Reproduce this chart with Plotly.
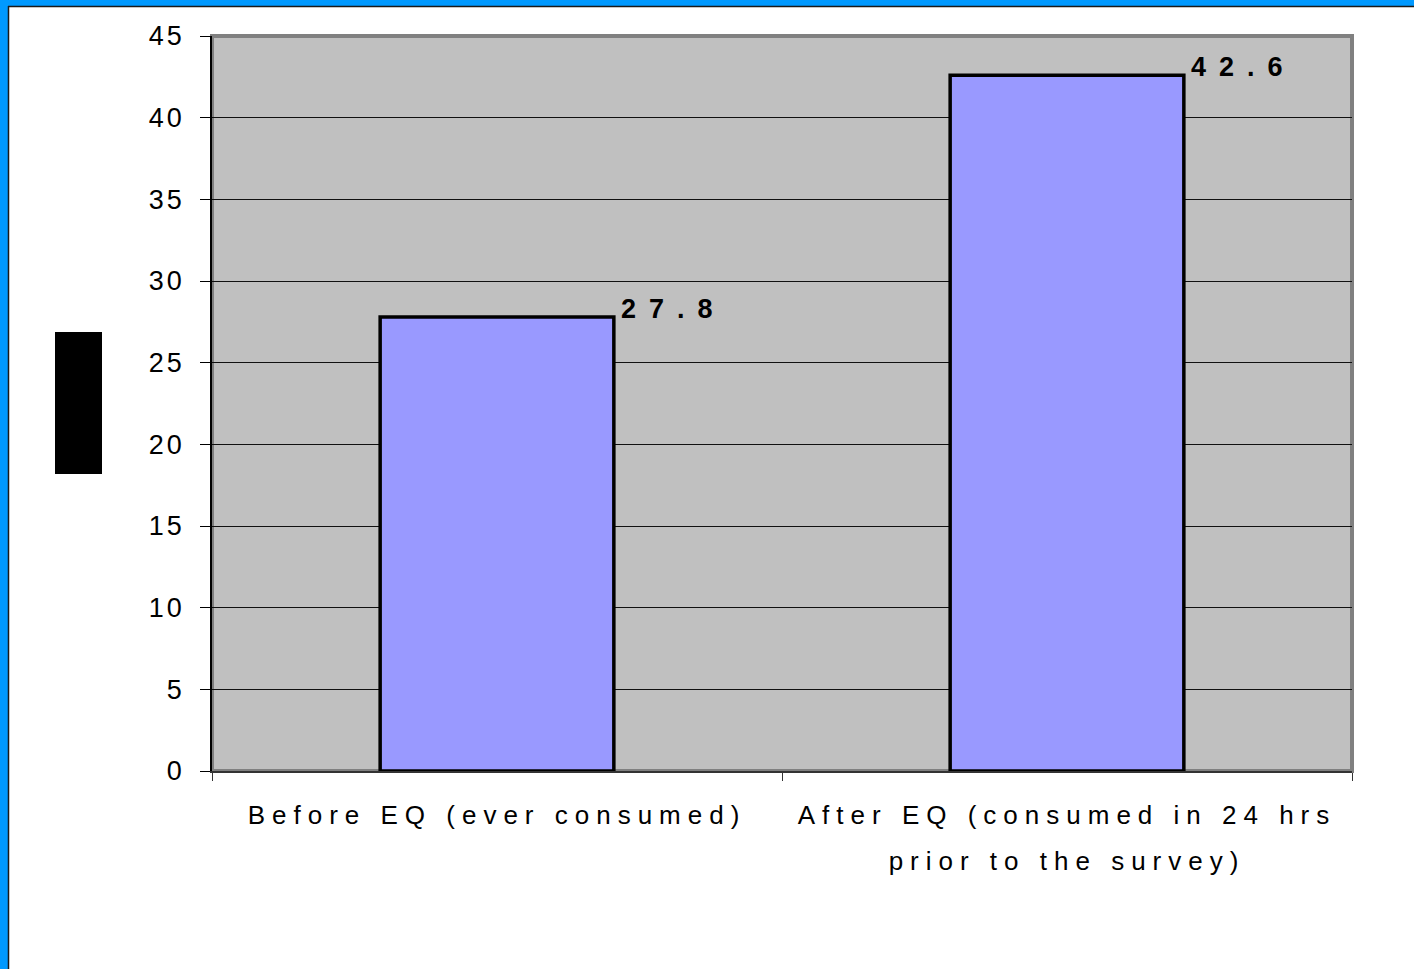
import plotly.graph_objects as go

categories = ["Before EQ (ever consumed)", "After EQ (consumed in 24 hrs<br>prior to the survey)"]
values = [27.8, 42.6]
y_ticks = [0, 5, 10, 15, 20, 25, 30, 35, 40, 45]

W, H = 1414, 969
L, R, T, B = 212, 62, 36, 198
PW, PH = W - L - R, H - T - B

def px(x):
    return (x - L) / PW

def py(y):
    return (H - B - y) / PH

fig = go.Figure()
fig.add_trace(go.Bar(
    x=categories, y=values,
    marker=dict(color="#9999FF", line=dict(color="black", width=3.5)),
    width=0.41,
))

for c, v in zip(categories, values):
    fig.add_annotation(x=c, y=v, text=f"<b>{v}</b>", showarrow=False,
                       xanchor="left", yanchor="bottom", xshift=148, yshift=-9,
                       font=dict(family="Liberation Sans, Arial", size=27, color="black"))

shapes = [
    dict(type="rect", xref="paper", yref="paper", x0=0, x1=1, y0=0, y1=1,
         line=dict(color="#808080", width=4), layer="below"),
    # blue frame top
    dict(type="rect", xref="paper", yref="paper", x0=px(-5), x1=px(W + 5), y0=py(6), y1=py(-5),
         fillcolor="#0099FF", line=dict(width=0), layer="above"),
    dict(type="line", xref="paper", yref="paper", x0=px(8), x1=px(W + 5), y0=py(6.5), y1=py(6.5),
         line=dict(color="#1a1a1a", width=1.5), layer="above"),
    # blue frame left
    dict(type="rect", xref="paper", yref="paper", x0=px(-5), x1=px(8), y0=py(H + 5), y1=py(-5),
         fillcolor="#0099FF", line=dict(width=0), layer="above"),
    dict(type="line", xref="paper", yref="paper", x0=px(8.5), x1=px(8.5), y0=py(H + 5), y1=py(6),
         line=dict(color="#1a1a1a", width=1.5), layer="above"),
    # obscured y-axis title box
    dict(type="rect", xref="paper", yref="paper", x0=px(55), x1=px(102), y0=py(474), y1=py(332),
         fillcolor="black", line=dict(width=0), layer="above"),
]

fig.update_layout(
    width=W, height=H,
    margin=dict(l=L, r=R, t=T, b=B, autoexpand=False),
    paper_bgcolor="white", plot_bgcolor="#C0C0C0",
    showlegend=False,
    bargap=0.59,
    shapes=shapes,
    font=dict(family="Liberation Sans, Arial", color="black"),
)
fig.update_yaxes(range=[0, 45], tickvals=y_ticks, ticks="outside", ticklen=10, tickcolor="black",
                 showgrid=True, gridcolor="#111111", gridwidth=1, showline=True, linecolor="black",
                 linewidth=1.5, tickfont=dict(size=27), zeroline=False, fixedrange=True,
                 ticklabelstandoff=10)
fig.update_xaxes(ticks="outside", tickson="boundaries", ticklen=8, tickcolor="#333333",
                 showline=True, linecolor="#333333", linewidth=2, tickfont=dict(size=26),
                 showgrid=False, ticklabelstandoff=20, fixedrange=True)

js = """
document.body.style.margin = '0';
var gd = document.getElementById('{plot_id}');
function sp(){
  gd.querySelectorAll('.xtick text').forEach(function(t){
    t.style.letterSpacing='7px';
    t.querySelectorAll('tspan.line').forEach(function(s,i){ if(i>0){ s.setAttribute('dy','1.75em'); } });
  });
  gd.querySelectorAll('.ytick text').forEach(function(t){t.style.letterSpacing='3px';});
  gd.querySelectorAll('.annotation-text').forEach(function(t){t.style.letterSpacing='13px';});
}
sp();
gd.on('plotly_afterplot', sp);
"""
fig.write_html("out.html", post_script=js, config={"displayModeBar": False})
